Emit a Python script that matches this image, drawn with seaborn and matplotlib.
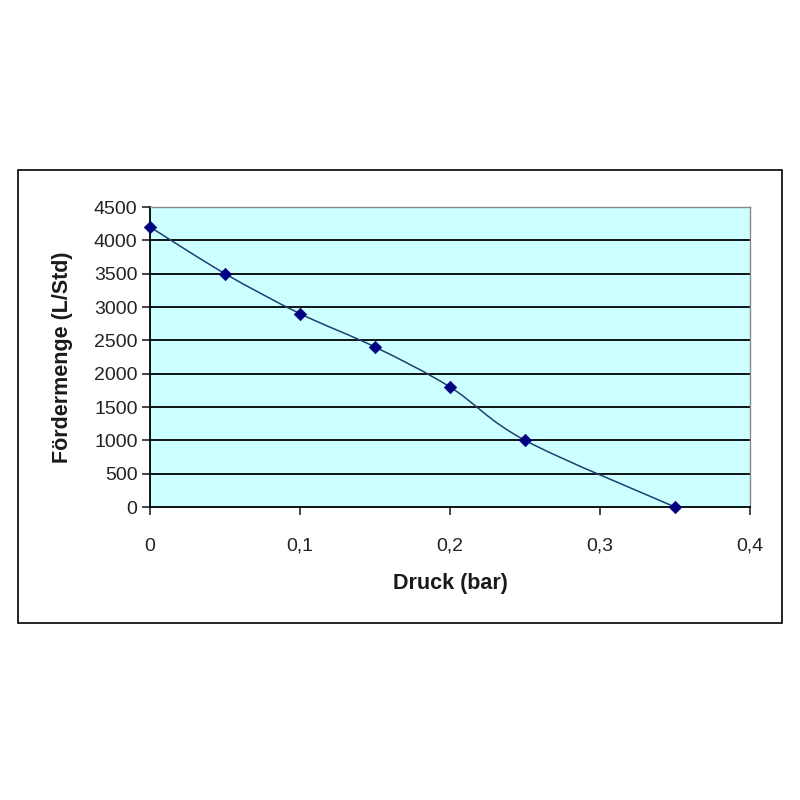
import matplotlib
matplotlib.use("Agg")
import matplotlib.pyplot as plt
from matplotlib.path import Path
from matplotlib.patches import PathPatch, Rectangle
import numpy as np
import seaborn as sns

# data
druck = [0.0, 0.05, 0.10, 0.15, 0.20, 0.25, 0.35]
foerdermenge = [4200, 3500, 2900, 2400, 1800, 1000, 0]

x_ticks = [0, 0.1, 0.2, 0.3, 0.4]
x_labels = ["0", "0,1", "0,2", "0,3", "0,4"]
y_ticks = list(range(0, 4501, 500))

sns.set_style("white")
plt.rcParams['font.family'] = ['Liberation Sans', 'DejaVu Sans']

fig = plt.figure(figsize=(8, 8), dpi=100)

# outer chart frame
fig.patches.append(Rectangle((0.0225, 0.22125), 0.955, 0.56625, transform=fig.transFigure,
                             fill=False, edgecolor='black', linewidth=1.2))

ax = fig.add_axes([0.1875, 0.36625, 0.75, 0.375])
ax.set_facecolor('#ccffff')


def smooth_path(xs, ys, t=1 / 6):
    # Catmull-Rom style bezier through the data points (Excel smoothed line)
    xs = np.asarray(xs, float)
    ys = np.asarray(ys, float)
    sx = xs / 0.4
    sy = ys / 4500
    verts = [(xs[0], ys[0])]
    codes = [Path.MOVETO]
    n = len(xs)
    for i in range(n - 1):
        p0 = max(i - 1, 0)
        p3 = min(i + 2, n - 1)
        c1 = (sx[i] + (sx[i + 1] - sx[p0]) * t, sy[i] + (sy[i + 1] - sy[p0]) * t)
        c2 = (sx[i + 1] - (sx[p3] - sx[i]) * t, sy[i + 1] - (sy[p3] - sy[i]) * t)
        verts += [(c1[0] * 0.4, c1[1] * 4500), (c2[0] * 0.4, c2[1] * 4500), (xs[i + 1], ys[i + 1])]
        codes += [Path.CURVE4] * 3
    return Path(verts, codes)


for y in y_ticks[1:]:
    ax.axhline(y, color='black', linewidth=1.3, zorder=1)

ax.add_patch(PathPatch(smooth_path(druck, foerdermenge), fill=False,
                       edgecolor='#1f3f6f', linewidth=1.1, zorder=2))
sns.scatterplot(x=druck, y=foerdermenge, marker='D', s=40, color='#000080',
                edgecolor='#000080', ax=ax, zorder=3, clip_on=False)

ax.set_xlim(0, 0.4)
ax.set_ylim(0, 4500)
ax.set_xticks(x_ticks)
ax.set_xticklabels(x_labels)
ax.set_yticks(y_ticks)
ax.tick_params(axis='y', direction='out', length=6, width=1.2, pad=3, labelsize=14, left=True)
ax.tick_params(axis='x', direction='out', length=6, width=1.2, pad=16, labelsize=14, bottom=True)
for lbl in ax.get_xticklabels() + ax.get_yticklabels():
    lbl.set_color('#222222')

for side in ['left', 'bottom']:
    ax.spines[side].set_color('black')
    ax.spines[side].set_linewidth(1.3)
for side in ['top', 'right']:
    ax.spines[side].set_color('#888888')
    ax.spines[side].set_linewidth(1.0)

ax.set_xlabel('Druck (bar)', fontsize=15.5, fontweight='bold', labelpad=13, color='#1a1a1a')
ax.set_ylabel('Fördermenge (L/Std)', fontsize=15.5, fontweight='bold', labelpad=15, color='#1a1a1a')

fig.savefig('out.png', dpi=100)
